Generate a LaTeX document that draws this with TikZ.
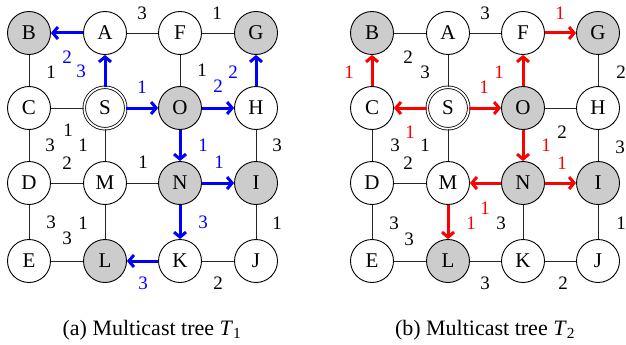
\documentclass[tikz,border=0pt]{standalone}
\usepackage{fontspec}
\setmainfont{Liberation Serif}
\usetikzlibrary{arrows.meta}
\definecolor{nodegray}{RGB}{204,204,204}
\begin{document}
\begin{tikzpicture}[x=1pt,y=-1pt,
 vtx/.style={circle, draw, line width=0.9pt, minimum size=43pt, inner sep=0pt, fill=white, font=\fontsize{21}{24}\selectfont},
 dest/.style={vtx, fill=nodegray},
 src/.style={vtx, double, double distance=1.8pt, line width=0.8pt, minimum size=41.5pt},
 ln/.style={line width=0.9pt, black!85},
 barr/.style={line width=3pt, blue, -{Straight Barb[length=5pt,width=12pt]}},
 rarr/.style={line width=3pt, red, -{Straight Barb[length=5pt,width=12pt]}},
 wl/.style={font=\fontsize{19}{22}\selectfont, inner sep=0pt},
 bl/.style={wl, blue},
 rl/.style={wl, red},
 captxt/.style={font=\fontsize{22}{26}\selectfont, inner sep=0pt}
]
\useasboundingbox (0,0) rectangle (626,345);
% ---------- left graph ----------
\node[dest] (aB) at (29,33) {B};
\node[vtx]  (aA) at (105,33) {A};
\node[vtx]  (aF) at (180,33) {F};
\node[dest] (aG) at (256,33) {G};
\node[vtx]  (aC) at (29,108) {C};
\node[src]  (aS) at (105,108) {S};
\node[dest] (aO) at (180,108) {O};
\node[vtx]  (aH) at (256,108) {H};
\node[vtx]  (aD) at (29,183) {D};
\node[vtx]  (aM) at (105,183) {M};
\node[dest] (aN) at (180,183) {N};
\node[dest] (aI) at (256,183) {I};
\node[vtx]  (aE) at (29,261) {E};
\node[dest] (aL) at (105,261) {L};
\node[vtx]  (aK) at (180,261) {K};
\node[vtx]  (aJ) at (256,261) {J};
\draw[ln] (aA) -- (aF);
\draw[ln] (aF) -- (aG);
\draw[ln] (aB) -- (aC);
\draw[ln] (aF) -- (aO);
\draw[ln] (aC) -- (aS);
\draw[ln] (aC) -- (aD);
\draw[ln] (aS) -- (aM);
\draw[ln] (aH) -- (aI);
\draw[ln] (aD) -- (aM);
\draw[ln] (aM) -- (aN);
\draw[ln] (aD) -- (aE);
\draw[ln] (aM) -- (aL);
\draw[ln] (aI) -- (aJ);
\draw[ln] (aE) -- (aL);
\draw[ln] (aK) -- (aJ);
\draw[barr] (aA) -- (aB);
\draw[barr] (aS) -- (aA);
\draw[barr] (aS) -- (aO);
\draw[barr] (aO) -- (aH);
\draw[barr] (aH) -- (aG);
\draw[barr] (aO) -- (aN);
\draw[barr] (aN) -- (aI);
\draw[barr] (aN) -- (aK);
\draw[barr] (aK) -- (aL);
\node[wl] (awAF) at (142,13) {3};
\node[wl] (awFG) at (217,13) {1};
\node[bl] (awAB) at (67,57) {2};
\node[wl] (awBC) at (51,72) {1};
\node[bl] (awAS) at (81,71) {3};
\node[bl] (awSO) at (142,87) {1};
\node[wl] (awFO) at (202,70) {1};
\node[bl] (awGH) at (233,72) {2};
\node[bl] (awOH) at (218,86) {2};
\node[wl] (awCS) at (68,130) {1};
\node[wl] (awCD) at (50,145) {3};
\node[wl] (awSM) at (83,145) {1};
\node[bl] (awON) at (203,145) {1};
\node[wl] (awHI) at (277,145) {3};
\node[wl] (awDM) at (67,163) {2};
\node[wl] (awMN) at (143,162) {1};
\node[bl] (awNI) at (219,162) {1};
\node[wl] (awDE) at (51,222) {3};
\node[wl] (awML) at (83,223) {1};
\node[bl] (awNK) at (203,222) {3};
\node[wl] (awIJ) at (277,223) {1};
\node[wl] (awEL) at (67,238) {3};
\node[bl] (awLK) at (143,283) {3};
\node[wl] (awKJ) at (218,283) {2};
\node[captxt] (capa) at (152,330) {(a) Multicast tree \textit{T}\textsubscript{1}};
% ---------- right graph ----------
\node[dest] (bB) at (372,33) {B};
\node[vtx]  (bA) at (448,33) {A};
\node[vtx]  (bF) at (523,33) {F};
\node[dest] (bG) at (598,33) {G};
\node[vtx]  (bC) at (372,108) {C};
\node[src]  (bS) at (448,108) {S};
\node[dest] (bO) at (523,108) {O};
\node[vtx]  (bH) at (598,108) {H};
\node[vtx]  (bD) at (372,183) {D};
\node[vtx]  (bM) at (448,183) {M};
\node[dest] (bN) at (523,183) {N};
\node[dest] (bI) at (598,183) {I};
\node[vtx]  (bE) at (372,261) {E};
\node[dest] (bL) at (448,261) {L};
\node[vtx]  (bK) at (523,261) {K};
\node[vtx]  (bJ) at (598,261) {J};
\draw[ln] (bA) -- (bB);
\draw[ln] (bA) -- (bF);
\draw[ln] (bA) -- (bS);
\draw[ln] (bG) -- (bH);
\draw[ln] (bO) -- (bH);
\draw[ln] (bC) -- (bD);
\draw[ln] (bS) -- (bM);
\draw[ln] (bH) -- (bI);
\draw[ln] (bD) -- (bM);
\draw[ln] (bD) -- (bE);
\draw[ln] (bI) -- (bJ);
\draw[ln] (bE) -- (bL);
\draw[ln] (bN) -- (bK);
\draw[ln] (bL) -- (bK);
\draw[ln] (bK) -- (bJ);
\draw[rarr] (bC) -- (bB);
\draw[rarr] (bS) -- (bC);
\draw[rarr] (bS) -- (bO);
\draw[rarr] (bO) -- (bF);
\draw[rarr] (bF) -- (bG);
\draw[rarr] (bO) -- (bN);
\draw[rarr] (bN) -- (bI);
\draw[rarr] (bN) -- (bM);
\draw[rarr] (bM) -- (bL);
\node[wl] (bwAF) at (485,13) {3};
\node[rl] (bwFG) at (560,13) {1};
\node[wl] (bwAB) at (408,57) {2};
\node[rl] (bwBC) at (349,72) {1};
\node[wl] (bwAS) at (425,72) {3};
\node[rl] (bwSO) at (484,87) {1};
\node[rl] (bwOF) at (499,72) {1};
\node[wl] (bwGH) at (621,72) {2};
\node[wl] (bwOH) at (562,132) {2};
\node[rl] (bwCS) at (410,132) {1};
\node[wl] (bwCD) at (395,145) {3};
\node[wl] (bwSM) at (425,145) {1};
\node[rl] (bwON) at (546,145) {1};
\node[wl] (bwHI) at (620,147) {3};
\node[wl] (bwDM) at (408,163) {2};
\node[rl] (bwNI) at (562,163) {1};
\node[rl] (bwMN) at (485,208) {1};
\node[wl] (bwDE) at (394,223) {3};
\node[rl] (bwML) at (471,223) {1};
\node[wl] (bwNK) at (501,223) {3};
\node[wl] (bwIJ) at (621,223) {1};
\node[wl] (bwEL) at (409,239) {3};
\node[wl] (bwLK) at (485,283) {3};
\node[wl] (bwKJ) at (563,283) {2};
\node[captxt] (capb) at (485,330) {(b) Multicast tree \textit{T}\textsubscript{2}};
\end{tikzpicture}
\end{document}
